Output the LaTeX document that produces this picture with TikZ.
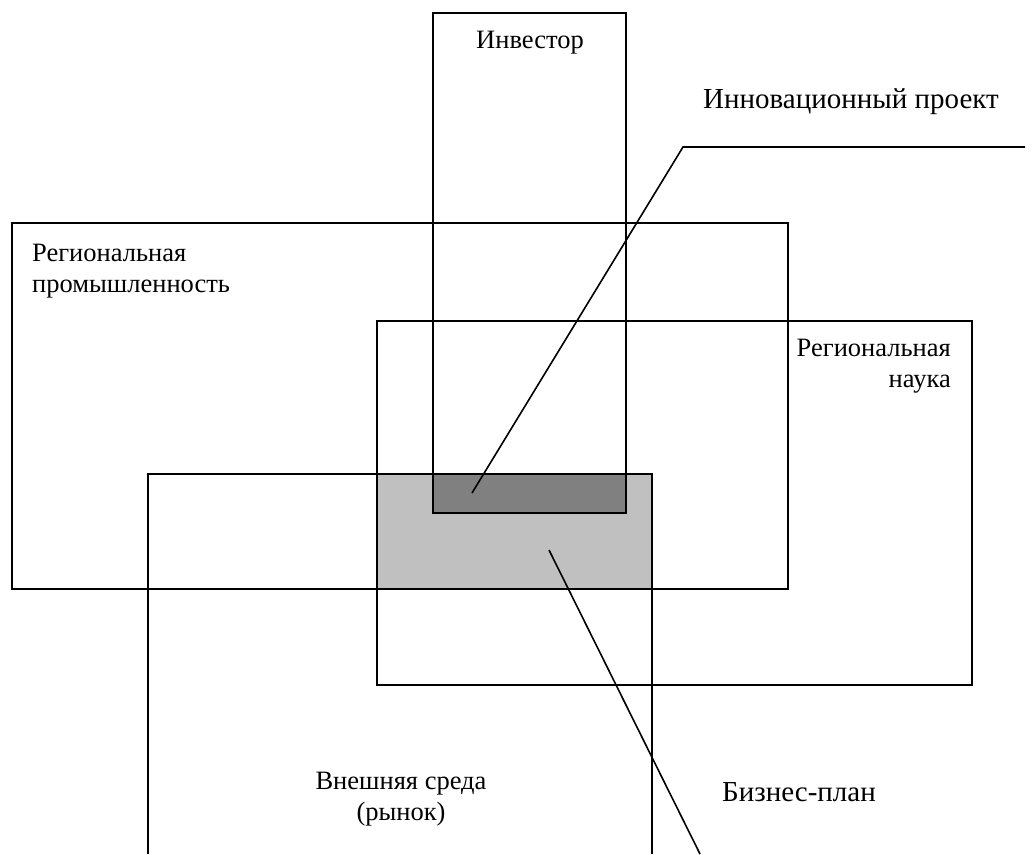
\documentclass[tikz,border=0pt]{standalone}
\usepackage{fontspec}
\setmainfont{Liberation Serif}
\begin{document}
\begin{tikzpicture}[x=1pt,y=-1pt,
  frame/.style={draw=black,line width=1.8pt},
  lead/.style={draw=black,line width=1.6pt},
  lbl/.style={inner sep=0pt,font=\fontsize{26.5}{30.5}\selectfont},
  callout/.style={inner sep=0pt,font=\fontsize{29}{34}\selectfont},
  lightfill/.style={fill={rgb,255:red,192;green,192;blue,192}},
  darkfill/.style={fill={rgb,255:red,128;green,128;blue,128}}]
\useasboundingbox (0,0) rectangle (1035,854);
% shaded overlaps
\fill[lightfill] (377,474) rectangle (652,589);
\fill[darkfill] (433,474) rectangle (626,513);
% frames
\draw[frame] (433,13) rectangle (626,513);
\draw[frame] (12,223) rectangle (788,589);
\draw[frame] (377,321) rectangle (972,685);
\draw[frame] (148,854) -- (148,474) -- (652,474) -- (652,854);
% labels (base anchor = baseline of the last line)
\node[lbl,anchor=base] (inv) at (530,48) {Инвестор};
\node[callout,anchor=base west] (proj) at (703,108) {Инновационный проект};
\node[lbl,anchor=base west,align=left] (ind) at (32,292) {Региональная\\промышленность};
\node[lbl,anchor=base east,align=right] (sci) at (951,387) {Региональная\\наука};
\node[lbl,anchor=base,align=center] (ext) at (401,820) {Внешняя среда\\(рынок)};
\node[callout,anchor=base west] (bp) at (722,801) {Бизнес-план};
% leader lines
\coordinate (p1) at (472,493);
\coordinate (p2) at (683,147);
\coordinate (p3) at (1025,147);
\coordinate (b1) at (549,550);
\coordinate (b2) at (700,854);
\draw[lead] (p1) -- (p2) -- (p3);
\draw[lead] (b1) -- (b2);
\end{tikzpicture}
\end{document}
